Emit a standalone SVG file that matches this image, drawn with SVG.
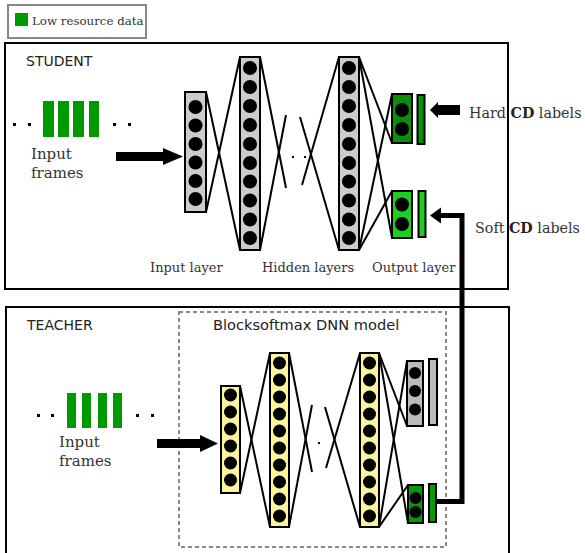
<svg xmlns="http://www.w3.org/2000/svg" width="585" height="553" viewBox="0 0 585 553">
<style>
.serif{font-family:"DejaVu Serif","Liberation Serif",serif;fill:#333}
.sans{font-family:"DejaVu Sans","Liberation Sans",sans-serif;fill:#222}
.lg{fill:#cccccc;stroke:#000;stroke-width:2}
.ly{fill:#fdf59c;stroke:#000;stroke-width:2}
.lgr{fill:#bbbbbb;stroke:#000;stroke-width:2}
.dg{fill:#0a8f0a;stroke:#000;stroke-width:2}
.lgn{fill:#1fcf1f;stroke:#000;stroke-width:2}
.tg{fill:#079a07;stroke:#000;stroke-width:2}
.n{fill:#000}
.fr{fill:#009900}
.c line{stroke:#000;stroke-width:2}
.dot{fill:#000}
</style>
<rect width="585" height="553" fill="#fff"/>

<g id="legend">
<rect x="8" y="5" width="138" height="33" fill="#fff" stroke="#888" stroke-width="2"/>
<rect x="15" y="13" width="13" height="13" fill="#009900"/>
<text x="32" y="25" class="serif" font-size="11.8">Low resource data</text>
</g>

<g id="student">
<rect x="5" y="43" width="503" height="246" fill="none" stroke="#000" stroke-width="2"/>
<text x="26" y="66" class="sans" font-size="14">STUDENT</text>
</g>

<g id="student-input-frames">
<rect x="13" y="123" width="3" height="3" class="dot"/>
<rect x="28" y="123" width="3" height="3" class="dot"/>
<rect x="43" y="101" width="11" height="36" class="fr"/>
<rect x="58" y="101" width="11" height="36" class="fr"/>
<rect x="73" y="101" width="11" height="36" class="fr"/>
<rect x="89" y="101" width="10" height="36" class="fr"/>
<rect x="113" y="123" width="3" height="3" class="dot"/>
<rect x="128" y="123" width="3" height="3" class="dot"/>
<text x="31" y="159" class="serif" font-size="15">Input</text>
<text x="31" y="178" class="serif" font-size="15">frames</text>
</g>

<g id="student-input-layer">
<rect x="185" y="92" width="21" height="120" class="lg"/>
<circle cx="195.5" cy="107" r="7" class="n"/>
<circle cx="195.5" cy="125.5" r="7" class="n"/>
<circle cx="195.5" cy="144" r="7" class="n"/>
<circle cx="195.5" cy="162.5" r="7" class="n"/>
<circle cx="195.5" cy="181" r="7" class="n"/>
<circle cx="195.5" cy="199" r="7" class="n"/>
<text x="150" y="272" class="serif" font-size="13">Input layer</text>
</g>

<g id="student-hidden-1">
<rect x="240" y="57" width="20" height="193" class="lg"/>
<circle cx="250" cy="68" r="7" class="n"/>
<circle cx="250" cy="87" r="7" class="n"/>
<circle cx="250" cy="106" r="7" class="n"/>
<circle cx="250" cy="125" r="7" class="n"/>
<circle cx="250" cy="144" r="7" class="n"/>
<circle cx="250" cy="163" r="7" class="n"/>
<circle cx="250" cy="181.5" r="7" class="n"/>
<circle cx="250" cy="200.5" r="7" class="n"/>
<circle cx="250" cy="219.5" r="7" class="n"/>
<circle cx="250" cy="238" r="7" class="n"/>
</g>

<g id="student-hidden-2">
<rect x="339" y="57" width="20" height="193" class="lg"/>
<circle cx="349" cy="68" r="7" class="n"/>
<circle cx="349" cy="87" r="7" class="n"/>
<circle cx="349" cy="106" r="7" class="n"/>
<circle cx="349" cy="125" r="7" class="n"/>
<circle cx="349" cy="144" r="7" class="n"/>
<circle cx="349" cy="163" r="7" class="n"/>
<circle cx="349" cy="181.5" r="7" class="n"/>
<circle cx="349" cy="200.5" r="7" class="n"/>
<circle cx="349" cy="219.5" r="7" class="n"/>
<circle cx="349" cy="238" r="7" class="n"/>
<text x="262" y="272" class="serif" font-size="13">Hidden layers</text>
</g>

<g id="student-output-hard">
<rect x="392" y="94" width="20" height="49" class="dg"/>
<circle cx="402" cy="110" r="7" class="n"/>
<circle cx="402" cy="129" r="7" class="n"/>
<rect x="417.5" y="95" width="7" height="49" class="dg"/>
</g>

<g id="student-output-soft">
<rect x="392" y="191" width="20" height="47" class="lgn"/>
<circle cx="402" cy="204.5" r="7" class="n"/>
<circle cx="402" cy="224" r="7" class="n"/>
<rect x="418.5" y="191" width="7" height="46" class="lgn"/>
<text x="372" y="272" class="serif" font-size="13">Output layer</text>
</g>

<g id="hard-cd-labels">
<text x="469" y="118" class="serif" font-size="14.3">Hard <tspan font-weight="bold" fill="#222">CD</tspan> labels</text>
</g>
<g id="soft-cd-labels">
<text x="475" y="233" class="serif" font-size="14.3">Soft <tspan font-weight="bold" fill="#222">CD</tspan> labels</text>
</g>

<g id="teacher">
<rect x="6" y="307" width="503" height="260" fill="none" stroke="#000" stroke-width="2"/>
<text x="27" y="330" class="sans" font-size="14">TEACHER</text>
</g>

<g id="blocksoftmax-model">
<rect x="179" y="312" width="267" height="235" fill="none" stroke="#888" stroke-width="2" stroke-dasharray="4 3"/>
<text x="213" y="330" class="sans" font-size="14.6">Blocksoftmax DNN model</text>
</g>

<g id="teacher-input-frames">
<rect x="37" y="414" width="3" height="3" class="dot"/>
<rect x="51" y="414" width="3" height="3" class="dot"/>
<rect x="67" y="393" width="9" height="35" class="fr"/>
<rect x="82" y="393" width="9" height="35" class="fr"/>
<rect x="98" y="393" width="9" height="35" class="fr"/>
<rect x="113" y="393" width="9" height="35" class="fr"/>
<rect x="136" y="414" width="3" height="3" class="dot"/>
<rect x="151" y="414" width="3" height="3" class="dot"/>
<text x="59" y="447" class="serif" font-size="15">Input</text>
<text x="59" y="466" class="serif" font-size="15">frames</text>
</g>

<g id="teacher-input-layer">
<rect x="221" y="386" width="19" height="107" class="ly"/>
<circle cx="230.5" cy="395" r="6.5" class="n"/>
<circle cx="230.5" cy="412" r="6.5" class="n"/>
<circle cx="230.5" cy="429" r="6.5" class="n"/>
<circle cx="230.5" cy="446" r="6.5" class="n"/>
<circle cx="230.5" cy="463" r="6.5" class="n"/>
<circle cx="230.5" cy="480" r="6.5" class="n"/>
</g>

<g id="teacher-hidden-1">
<rect x="270" y="353" width="19" height="174" class="ly"/>
<circle cx="279.5" cy="363" r="6.5" class="n"/>
<circle cx="279.5" cy="380" r="6.5" class="n"/>
<circle cx="279.5" cy="397" r="6.5" class="n"/>
<circle cx="279.5" cy="414" r="6.5" class="n"/>
<circle cx="279.5" cy="431" r="6.5" class="n"/>
<circle cx="279.5" cy="448" r="6.5" class="n"/>
<circle cx="279.5" cy="465" r="6.5" class="n"/>
<circle cx="279.5" cy="482" r="6.5" class="n"/>
<circle cx="279.5" cy="499" r="6.5" class="n"/>
<circle cx="279.5" cy="516" r="6.5" class="n"/>
</g>

<g id="teacher-hidden-2">
<rect x="360" y="353" width="19" height="174" class="ly"/>
<circle cx="369.5" cy="363" r="6.5" class="n"/>
<circle cx="369.5" cy="380" r="6.5" class="n"/>
<circle cx="369.5" cy="397" r="6.5" class="n"/>
<circle cx="369.5" cy="414" r="6.5" class="n"/>
<circle cx="369.5" cy="431" r="6.5" class="n"/>
<circle cx="369.5" cy="448" r="6.5" class="n"/>
<circle cx="369.5" cy="465" r="6.5" class="n"/>
<circle cx="369.5" cy="482" r="6.5" class="n"/>
<circle cx="369.5" cy="499" r="6.5" class="n"/>
<circle cx="369.5" cy="516" r="6.5" class="n"/>
</g>

<g id="teacher-output-gray">
<rect x="407" y="361" width="16" height="65" class="lgr"/>
<circle cx="415" cy="373" r="6" class="n"/>
<circle cx="415" cy="391" r="6" class="n"/>
<circle cx="415" cy="409.5" r="6" class="n"/>
<rect x="429" y="359" width="8" height="66" class="lgr"/>
</g>

<g id="teacher-output-green">
<rect x="408" y="485" width="15" height="38" class="tg"/>
<circle cx="415.5" cy="498" r="6" class="n"/>
<circle cx="415.5" cy="512" r="6" class="n"/>
<rect x="429" y="484" width="7" height="38" class="tg"/>
</g>

<g id="connectors" class="c">
<!-- student -->
<line x1="206" y1="92" x2="240" y2="250"/>
<line x1="206" y1="212" x2="240" y2="57"/>
<line x1="260" y1="57" x2="286" y2="188"/>
<line x1="260" y1="250" x2="286" y2="115"/>
<line x1="339" y1="57" x2="302" y2="185"/>
<line x1="339" y1="250" x2="300" y2="117"/>
<line x1="359" y1="57" x2="392" y2="143"/>
<line x1="359" y1="57" x2="392" y2="238"/>
<line x1="359" y1="250" x2="392" y2="94"/>
<line x1="359" y1="250" x2="392" y2="191"/>
<rect x="292" y="156" width="2" height="2" class="dot"/>
<rect x="304" y="156" width="2" height="2" class="dot"/>
<polygon points="116,152 163,152 163,148 183,156.5 163,165 163,161 116,161" fill="#000"/>
<polygon points="460,105 438,105 438,102 430,110 438,118 438,115 460,115" fill="#000"/>
<!-- teacher -->
<line x1="240" y1="386" x2="270" y2="527"/>
<line x1="240" y1="493" x2="270" y2="353"/>
<line x1="289" y1="353" x2="312" y2="472"/>
<line x1="289" y1="527" x2="312" y2="405"/>
<line x1="360" y1="353" x2="326" y2="468"/>
<line x1="360" y1="527" x2="325" y2="407"/>
<line x1="379" y1="353" x2="407" y2="426"/>
<line x1="379" y1="353" x2="408" y2="523"/>
<line x1="379" y1="527" x2="407" y2="361"/>
<line x1="379" y1="527" x2="408" y2="485"/>
<rect x="318" y="442" width="2" height="2" class="dot"/>
<polygon points="157,439 200,439 200,435 218,443.5 200,452 200,448 157,448" fill="#000"/>
<!-- soft labels -->
<polyline points="437,501.5 462,501.5 462,215.5 439,215.5" fill="none" stroke="#000" stroke-width="5"/>
<polygon points="441,207.5 430,215.5 441,223.5" fill="#000"/>
</g>
</svg>
